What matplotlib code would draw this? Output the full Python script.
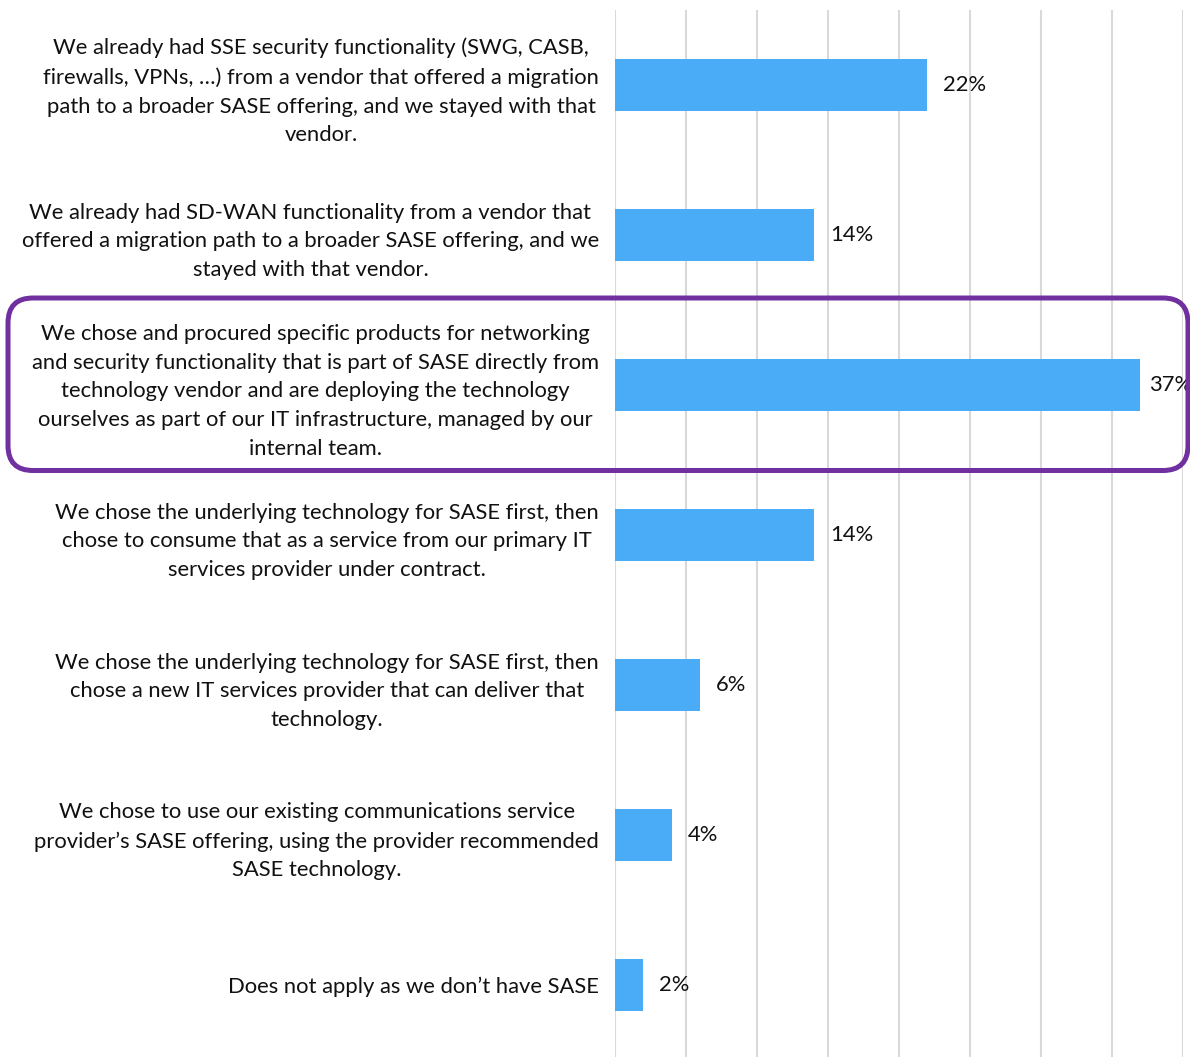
import matplotlib.pyplot as plt
from matplotlib.patches import FancyBboxPatch

# survey answers, top to bottom
labels = [
    "We already had SSE security functionality (SWG, CASB,\n"
    "firewalls, VPNs, …) from a vendor that offered a migration\n"
    "path to a broader SASE offering, and we stayed with that\n"
    "vendor.",
    "We already had SD-WAN functionality from a vendor that\n"
    "offered a migration path to a broader SASE offering, and we\n"
    "stayed with that vendor.",
    "We chose and procured specific products for networking\n"
    "and security functionality that is part of SASE directly from\n"
    "technology vendor and are deploying the technology\n"
    "ourselves as part of our IT infrastructure, managed by our\n"
    "internal team.",
    "We chose the underlying technology for SASE first, then\n"
    "chose to consume that as a service from our primary IT\n"
    "services provider under contract.",
    "We chose the underlying technology for SASE first, then\n"
    "chose a new IT services provider that can deliver that\n"
    "technology.",
    "We chose to use our existing communications service\n"
    "provider’s SASE offering, using the provider recommended\n"
    "SASE technology.",
    "Does not apply as we don’t have SASE",
]
shares = [22, 14, 37, 14, 6, 4, 2]
highlight = 2

plt.rcParams['font.family'] = ['Lato', 'DejaVu Sans']
FS = 15.8

fig = plt.figure(figsize=(11.9, 10.57), dpi=100)
ax = fig.add_axes([615 / 1190, 0.0, 568 / 1190, 1 - 10 / 1057])

ypos = range(len(shares))
ax.barh(ypos, shares, height=0.35, color='#4AACF6', zorder=2)
ax.set_xlim(0, 40)
ax.set_ylim(6.48, -0.5)

# value labels; the longest bar gets a tighter gap so its label stays on the page
for y, v in zip(ypos, shares):
    gap = 6 if v == max(shares) else 11.5
    ax.annotate(f"{v}%", (v, y), xytext=(gap, 0), textcoords='offset points',
                va='center', ha='left', fontsize=FS, color='#111111')

ax.set_xticks(range(0, 41, 5))
ax.xaxis.grid(True, color='#D9D9D9', linewidth=1.5, zorder=0)
ax.tick_params(axis='x', length=0, labelbottom=False)
ax.tick_params(axis='y', length=0, pad=11.5)
ax.set_yticks(list(ypos))
ax.set_yticklabels(labels, fontsize=FS, multialignment='center',
                   linespacing=1.55, color='#111111')
for s in ax.spines.values():
    s.set_visible(False)

# rounded frame around the highlighted answer
fig.canvas.draw()
to_in = fig.dpi_scale_trans.inverted()
_, top = ax.transData.transform((0, highlight - 0.58))
_, bot = ax.transData.transform((0, highlight + 0.57))
(_, y0) = to_in.transform((0, bot))
(_, y1) = to_in.transform((0, top))
x0, x1 = 8 / 100, 1188 / 100
r = 0.25
frame = FancyBboxPatch((x0 + r, y0 + r), x1 - x0 - 2 * r, y1 - y0 - 2 * r,
                       boxstyle=f"round,pad={r},rounding_size={r}",
                       transform=fig.dpi_scale_trans, fill=False,
                       edgecolor='#7030A0', linewidth=3.6, zorder=5)
fig.add_artist(frame)

fig.savefig('out.png', dpi=100)
